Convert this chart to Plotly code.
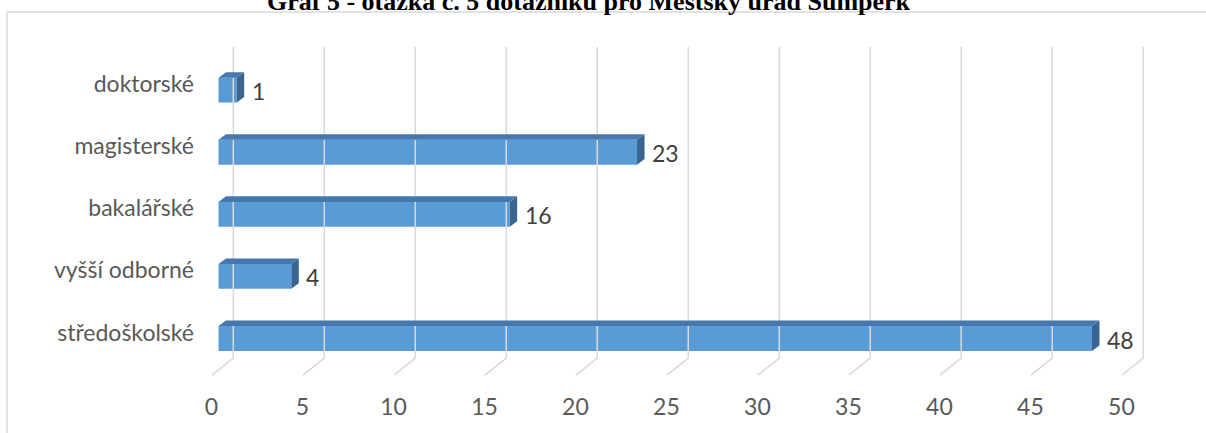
import plotly.graph_objects as go

# Education level of respondents (bottom to top)
categories = ["středoškolské", "vyšší odborné", "bakalářské", "magisterské", "doktorské"]
counts = [48, 4, 16, 23, 1]
x_ticks = [0, 5, 10, 15, 20, 25, 30, 35, 40, 45, 50]

title_text = "Graf 5 - otázka č. 5 dotazníku pro Městský úřad Šumperk"

FONT = "Lato"
FRONT = "#5b9bd5"
TOP = "#4677ad"
SIDE = "#3a6591"
GRID = "#d9d9d9"

pos = list(range(len(categories)))
bar_w = 0.40
# pseudo-3D depth offsets (data units)
dx, dy = 0.412, 0.089
wall_dx, floor_dx = 0.813, -0.357
wall_top, wall_bot, floor_y = 4.694, -0.314, -0.588

fig = go.Figure()

# back-wall gridlines with floor segments
gx, gy = [], []
for v in x_ticks:
    gx += [v + wall_dx, v + wall_dx, v + floor_dx, None]
    gy += [wall_top, wall_bot, floor_y, None]
fig.add_trace(go.Scatter(x=gx, y=gy, mode="lines", line=dict(color=GRID, width=1.5),
                         hoverinfo="skip", showlegend=False))

# front faces
fig.add_trace(go.Bar(x=counts, y=pos, orientation="h", width=bar_w, base=0,
                     marker=dict(color=FRONT, line=dict(width=0)), showlegend=False))

# top faces
tx, ty = [], []
for v, p in zip(counts, pos):
    yt = p + bar_w / 2
    tx += [0, v, v + dx, dx, 0, None]
    ty += [yt, yt, yt + dy, yt + dy, yt, None]
fig.add_trace(go.Scatter(x=tx, y=ty, fill="toself", fillcolor=TOP, mode="lines",
                         line=dict(width=0, color=TOP), hoverinfo="skip", showlegend=False))

# side faces
sx, sy = [], []
for v, p in zip(counts, pos):
    yb, yt = p - bar_w / 2, p + bar_w / 2
    sx += [v, v + dx, v + dx, v, v, None]
    sy += [yb, yb + dy, yt + dy, yt, yb, None]
fig.add_trace(go.Scatter(x=sx, y=sy, fill="toself", fillcolor=SIDE, mode="lines",
                         line=dict(width=0, color=SIDE), hoverinfo="skip", showlegend=False))

# value labels
for v, p in zip(counts, pos):
    fig.add_annotation(x=v, y=p, text=str(v), showarrow=False, xanchor="left",
                       xshift=13, yshift=-1, font=dict(family=FONT, size=23, color="#404040"))

fig.add_annotation(xref="paper", yref="paper", x=0.3897, y=0.997, text="<b>" + title_text + "</b>",
                   showarrow=False, xanchor="center", yanchor="middle",
                   font=dict(family="Liberation Serif", size=26, color="#000000"))

# chart frame (top and left edges)
fig.add_shape(type="line", xref="paper", yref="paper", x0=-0.186, y0=0.9693, x1=1.05, y1=0.9693,
              line=dict(color=GRID, width=1.5), layer="below")
fig.add_shape(type="line", xref="paper", yref="paper", x0=-0.186, y0=0.9693, x1=-0.186, y1=-0.2,
              line=dict(color=GRID, width=1.5), layer="below")

fig.update_layout(
    width=1206, height=433,
    margin=dict(l=195, r=0, t=0, b=42),
    paper_bgcolor="white", plot_bgcolor="white",
    barmode="overlay",
    xaxis=dict(range=[-1.2914, 54.265], tickvals=x_ticks, showgrid=False, zeroline=False,
               showline=False, ticks="", ticklabelshift=-7,
               tickfont=dict(family=FONT, size=23, color="#595959")),
    yaxis=dict(range=[-0.845, 5.451], tickvals=pos, ticktext=categories, showgrid=False,
               zeroline=False, showline=False, ticks="", ticklabelshift=-6,
               tickfont=dict(family=FONT, size=23, color="#595959")),
)

fig.write_html("out.html")
